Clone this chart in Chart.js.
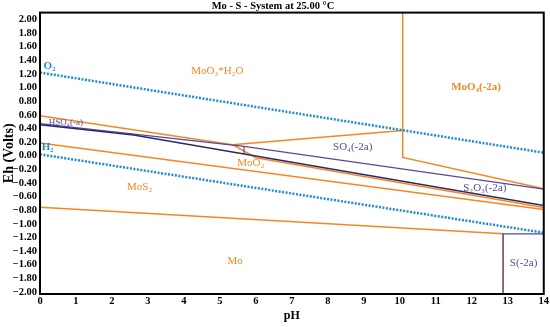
<!DOCTYPE html>
<html>
<head>
<meta charset="utf-8">
<script src="https://cdn.jsdelivr.net/npm/chart.js@4.4.0/dist/chart.umd.min.js"></script>
<style>
  html, body { margin: 0; padding: 0; background: #fff; }
  #wrap { width: 550px; height: 327px; }
</style>
</head>
<body>
<div id="wrap"><canvas id="pourbaix"></canvas></div>
<script>
// Axes
const phTicks = [0, 1, 2, 3, 4, 5, 6, 7, 8, 9, 10, 11, 12, 13, 14];
const ehTicks = [-2.0, -1.8, -1.6, -1.4, -1.2, -1.0, -0.8, -0.6, -0.4, -0.2, 0.0,
                 0.2, 0.4, 0.6, 0.8, 1.0, 1.2, 1.4, 1.6, 1.8, 2.0];

// Boundaries, as [pH, Eh] pairs
const o2Line = [[0, 1.22], [14, 0.044]];
const h2Line = [[0, 0.02], [14, -1.13]];
const moo3Lower = [[0, 0.588], [5.35, 0.162], [10.08, 0.368]];
const moo4Left = [[10.08, 2.1], [10.08, -0.025], [14, -0.485]];
const moo2Lower = [[5.35, 0.162], [6.0, -0.03], [14, -0.76]];
const mos2Upper = [[0, 0.187], [14, -0.79]];
const moLine = [[0, -0.755], [12.87, -1.147]];
const moStep = [[12.87, -1.147], [12.87, -2.03]];
const hso4Line = [[0, 0.47], [5.67, 0.137], [14, -0.49]];
const so4Line = [[0, 0.455], [2.6, 0.305], [14, -0.73]];
const so4Step = [[5.67, 0.137], [5.67, 0.026]];
const sBox = [[12.87, -2.03], [12.87, -1.147], [14, -1.147]];

// Field names
const fieldNames = ['O₂', 'H₂', 'MoO₃*H₂O', 'MoO₄(-2a)', 'HSO₄(-a)', 'SO₄(-2a)',
                    'MoO₂', 'MoS₂', 'S₂O₃(-2a)', 'Mo', 'S(-2a)'];
const fieldPh = [0.1, 0.05, 4.93, 12.12, 0.72, 8.69, 5.86, 2.77, 12.36, 5.42, 13.44];
const fieldEh = [1.31, 0.12, 1.235, 1.0, 0.48, 0.122, -0.108, -0.466, -0.475, -1.544, -1.58];

const ORANGE = 'rgb(245, 134, 38)';
const PURPLE = 'rgb(88, 72, 158)';
const NAVY = 'rgb(45, 40, 105)';
const BLUE = 'rgb(28, 142, 214)';
const SERIF = '"Liberation Serif", "DejaVu Serif", serif';

const fieldColors = [BLUE, BLUE, ORANGE, ORANGE, PURPLE, PURPLE, ORANGE, ORANGE, PURPLE, ORANGE, PURPLE];

function toPoints(pairs) {
    return pairs.map(p => ({ x: p[0], y: p[1] }));
}

function boundary(pairs, color, width, dash) {
    return {
        data: toPoints(pairs),
        showLine: true,
        borderColor: color,
        borderWidth: width,
        borderDash: dash || [],
        pointRadius: 0,
        fill: false,
        tension: 0
    };
}

// Cadre noir + noms des domaines
const frameAndNames = {
    id: 'frameAndNames',
    afterDatasetsDraw(chart) {
        const { ctx, chartArea: a, scales } = chart;
        ctx.save();
        ctx.strokeStyle = '#000';
        ctx.lineWidth = 2;
        ctx.strokeRect(a.left, a.top, a.right - a.left, a.bottom - a.top);

        ctx.textBaseline = 'middle';
        fieldNames.forEach((name, i) => {
            const px = scales.x.getPixelForValue(fieldPh[i]);
            const py = scales.y.getPixelForValue(fieldEh[i]);
            const small = name.startsWith('HSO');
            const bold = i < 2 || name.startsWith('MoO₄');
            ctx.font = (bold ? 'bold ' : '') + (small ? 9 : 11) + 'px ' + SERIF;
            ctx.fillStyle = fieldColors[i];
            ctx.textAlign = i < 2 ? 'left' : 'center';
            ctx.fillText(name, px, py);
        });
        ctx.restore();
    }
};

new Chart(document.getElementById('pourbaix'), {
    type: 'scatter',
    data: {
        datasets: [
            boundary(o2Line, BLUE, 2.5, [2, 1.5]),
            boundary(h2Line, BLUE, 2.5, [2, 1.5]),
            boundary(so4Line, NAVY, 1.5),
            boundary(hso4Line, PURPLE, 1.2),
            boundary(so4Step, PURPLE, 1.2),
            boundary(sBox, PURPLE, 1.2),
            boundary(moo3Lower, ORANGE, 1.5),
            boundary(moo4Left, ORANGE, 1.5),
            boundary(moo2Lower, ORANGE, 1.5),
            boundary(mos2Upper, ORANGE, 1.5),
            boundary(moLine, ORANGE, 1.5),
            boundary(moStep, ORANGE, 1)
        ]
    },
    options: {
        responsive: true,
        maintainAspectRatio: false,
        animation: false,
        layout: { padding: { top: 0, right: 4, bottom: 0, left: 0 } },
        plugins: {
            legend: { display: false },
            tooltip: { enabled: false },
            title: {
                display: true,
                text: 'Mo - S - System at 25.00 °C',
                color: '#000',
                font: { family: SERIF, size: 10.5, weight: 'bold' },
                padding: { top: 0, bottom: 0 }
            }
        },
        scales: {
            x: {
                type: 'linear',
                min: 0,
                max: 14,
                afterBuildTicks: scale => { scale.ticks = phTicks.map(v => ({ value: v })); },
                afterFit: scale => { scale.height = 33; },
                grid: { display: false, drawTicks: false },
                border: { display: false },
                ticks: {
                    padding: 1,
                    autoSkip: false,
                    color: '#000',
                    font: { family: SERIF, size: 10.5, weight: 'bold' },
                    maxRotation: 0
                },
                title: {
                    display: true,
                    text: 'pH',
                    color: '#000',
                    font: { family: SERIF, size: 12, weight: 'bold' },
                    padding: { top: 0, bottom: 4 }
                }
            },
            y: {
                type: 'linear',
                min: -2.03,
                max: 2.1,
                afterBuildTicks: scale => { scale.ticks = ehTicks.map(v => ({ value: v })); },
                afterFit: scale => { scale.width = 40; },
                grid: { display: false, drawTicks: false },
                border: { display: false },
                ticks: {
                    padding: 3,
                    autoSkip: false,
                    color: '#000',
                    font: { family: SERIF, size: 10.5, weight: 'bold' },
                    callback: v => (v < 0 ? '−' : '') + Math.abs(v).toFixed(2)
                },
                title: {
                    display: true,
                    text: 'Eh (Volts)',
                    color: '#000',
                    font: { family: SERIF, size: 14, weight: 'bold' },
                    padding: { top: 1, bottom: 0 }
                }
            }
        }
    },
    plugins: [frameAndNames]
});
</script>
</body>
</html>
